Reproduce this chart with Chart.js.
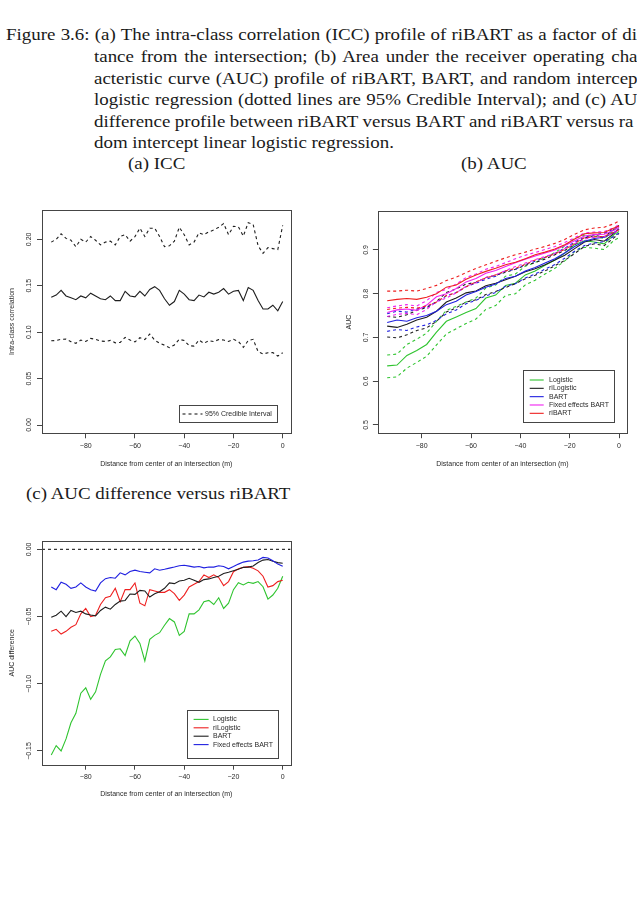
<!DOCTYPE html>
<html><head><meta charset="utf-8">
<script src="https://cdn.jsdelivr.net/npm/chart.js@4/dist/chart.umd.min.js"></script>
<style>
html,body{margin:0;padding:0;background:#fff;}
#page{position:relative;width:637px;height:924px;overflow:hidden;background:#fff;}
.cap{position:absolute;white-space:nowrap;font-family:"Liberation Serif",serif;font-size:17px;line-height:17px;color:#1a1a1a;transform-origin:0 50%;}
canvas{position:absolute;}
</style></head><body>
<div id="page">
<div class="cap" id="l1" style="left:6px;top:26.4px">Figure 3.6: (a) The intra-class correlation (ICC) profile of riBART as a factor of di</div>
<div class="cap" id="l2" style="left:93.5px;top:48.4px">tance from the intersection; (b) Area under the receiver operating cha</div>
<div class="cap" id="l3" style="left:93.5px;top:70.4px">acteristic curve (AUC) profile of riBART, BART, and random intercep</div>
<div class="cap" id="l4" style="left:93.5px;top:91.4px">logistic regression (dotted lines are 95% Credible Interval); and (c) AU</div>
<div class="cap" id="l5" style="left:93.5px;top:113.4px">difference profile between riBART versus BART and riBART versus ra</div>
<div class="cap" id="l6" style="left:93.5px;top:134.4px">dom intercept linear logistic regression.</div>
<div class="cap" id="sa" style="left:128px;top:154.7px">(a) ICC</div>
<div class="cap" id="sb" style="left:460.6px;top:154.7px">(b) AUC</div>
<div class="cap" id="sc" style="left:25.6px;top:484.7px">(c) AUC difference versus riBART</div>
<canvas id="ca" width="318" height="290" style="left:0;top:195px"></canvas>
<canvas id="cb" width="319" height="290" style="left:318px;top:195px"></canvas>
<canvas id="cc" width="318" height="295" style="left:0;top:525px"></canvas>
</div>
<script>
// ---------- data ----------
const xTicks = [-80, -60, -40, -20, 0];
const yTicksA = [0, 0.05, 0.10, 0.15, 0.20];
const yTicksB = [0.5, 0.6, 0.7, 0.8, 0.9];
const yTicksC = [-0.15, -0.10, -0.05, 0];

// (a) ICC profile, distance grid (m)
const xA = [-94,-92,-90,-88,-86,-84,-82,-80,-78,-76,-74,-72,-70,-68,-66,-64,-62,-60,-58,-56,
  -54,-52,-50,-48,-46,-44,-42,-40,-38,-36,-34,-32,-30,-28,-26,-24,-22,-20,-18,-16,-14,-12,-10,-8,-6,-4,-2,0];
const iccMean = [.1375,.140,.145,.139,.137,.135,.139,.137,.142,.139,
  .136,.135,.139,.134,.134,.144,.139,.138,.144,.139,
  .146,.149,.145,.136,.129,.133,.145,.141,.135,.134,
  .140,.138,.143,.141,.143,.147,.141,.144,.145,.134,
  .148,.145,.134,.125,.125,.129,.123,.133];
const iccUpper = [.197,.200,.206,.201,.199,.192,.200,.197,.203,.199,
  .194,.197,.198,.194,.203,.205,.198,.203,.212,.203,
  .212,.212,.203,.192,.193,.198,.213,.205,.194,.197,
  .207,.205,.208,.210,.213,.217,.205,.214,.2135,.2035,
  .218,.216,.193,.185,.191,.190,.189,.215];
const iccLower = [.0908,.0910,.0923,.0925,.0898,.0880,.0915,.0900,.0933,.0923,
  .0905,.0900,.0912,.0885,.0890,.0944,.0915,.0895,.0940,.0920,
  .0980,.0915,.0880,.0860,.0833,.0862,.0923,.0910,.0855,.0850,
  .0915,.0880,.0910,.0898,.0920,.0915,.0900,.0923,.0900,.0836,
  .0910,.0923,.0790,.0765,.0779,.0780,.0743,.0779];

// (b) AUC profiles
const xB = [-94,-90,-86,-82,-78,-74,-70,-66,-62,-58,-54,-50,-46,-42,-38,-34,-30,-26,-22,-18,-14,-10,-6,-2,0];
const aucLogistic   = [0.635,0.637,0.659,0.670,0.684,0.712,0.737,0.747,0.757,0.766,0.790,0.797,0.819,0.824,0.843,0.852,0.865,0.877,0.893,0.912,0.921,0.918,0.914,0.935,0.942];
const aucLogisticLo = [0.608,0.610,0.630,0.643,0.657,0.683,0.708,0.720,0.732,0.742,0.764,0.773,0.796,0.800,0.820,0.831,0.845,0.858,0.875,0.896,0.906,0.904,0.901,0.922,0.928];
const aucLogisticHi = [0.660,0.662,0.684,0.696,0.710,0.737,0.762,0.771,0.781,0.790,0.813,0.820,0.840,0.845,0.863,0.871,0.883,0.894,0.909,0.926,0.934,0.932,0.926,0.946,0.952];
const aucRiLogistic   = [0.726,0.723,0.730,0.740,0.746,0.760,0.781,0.790,0.802,0.806,0.818,0.824,0.832,0.840,0.850,0.857,0.866,0.877,0.888,0.903,0.918,0.924,0.920,0.938,0.948];
const aucRiLogisticLo = [0.701,0.699,0.706,0.716,0.722,0.737,0.758,0.768,0.781,0.786,0.798,0.805,0.814,0.823,0.834,0.842,0.852,0.864,0.876,0.892,0.908,0.914,0.910,0.928,0.938];
const aucRiLogisticHi = [0.748,0.746,0.752,0.762,0.768,0.782,0.803,0.811,0.822,0.826,0.837,0.842,0.849,0.856,0.865,0.871,0.879,0.889,0.899,0.913,0.927,0.933,0.930,0.947,0.956];
const aucBART   = [0.734,0.740,0.737,0.745,0.750,0.760,0.775,0.783,0.797,0.805,0.815,0.822,0.835,0.840,0.852,0.860,0.870,0.880,0.893,0.908,0.920,0.926,0.929,0.940,0.948];
const aucBARTLo = [0.714,0.718,0.716,0.724,0.729,0.739,0.754,0.763,0.777,0.785,0.795,0.803,0.817,0.823,0.836,0.845,0.856,0.867,0.881,0.897,0.910,0.916,0.919,0.931,0.939];
const aucBARTHi = [0.754,0.760,0.758,0.765,0.770,0.780,0.795,0.803,0.816,0.824,0.833,0.840,0.852,0.856,0.867,0.874,0.883,0.892,0.904,0.918,0.929,0.935,0.938,0.948,0.956];
const aucFixedBART   = [0.757,0.763,0.765,0.762,0.774,0.793,0.800,0.812,0.827,0.835,0.847,0.853,0.862,0.871,0.879,0.886,0.893,0.900,0.910,0.921,0.932,0.935,0.936,0.945,0.952];
const aucFixedBARTLo = [0.748,0.753,0.755,0.752,0.764,0.782,0.790,0.802,0.817,0.825,0.837,0.843,0.853,0.862,0.870,0.878,0.885,0.892,0.903,0.914,0.925,0.929,0.930,0.939,0.946];
const aucFixedBARTHi = [0.768,0.772,0.775,0.772,0.784,0.803,0.810,0.822,0.837,0.845,0.856,0.862,0.871,0.880,0.888,0.894,0.901,0.908,0.917,0.928,0.939,0.941,0.942,0.951,0.958];
const aucRiBART   = [0.784,0.787,0.789,0.787,0.792,0.800,0.815,0.820,0.833,0.843,0.851,0.858,0.866,0.872,0.880,0.889,0.895,0.902,0.912,0.925,0.937,0.939,0.940,0.950,0.955];
const aucRiBARTLo = [0.764,0.767,0.769,0.767,0.772,0.781,0.796,0.802,0.816,0.827,0.836,0.843,0.852,0.858,0.867,0.877,0.883,0.891,0.901,0.915,0.928,0.930,0.931,0.941,0.946];
const aucRiBARTHi = [0.806,0.806,0.808,0.806,0.812,0.819,0.830,0.838,0.848,0.858,0.866,0.874,0.882,0.889,0.895,0.902,0.908,0.915,0.924,0.936,0.946,0.950,0.952,0.960,0.966];

// (c) AUC difference versus riBART
const xC = xA.slice();
const diffLogistic = [-.153,-.146,-.150,-.141,-.129,-.122,-.107,-.103,-.1115,-.106,
  -.093,-.083,-.080,-.0745,-.074,-.079,-.068,-.0645,-.070,-.083,
  -.067,-.064,-.062,-.0565,-.0515,-.054,-.064,-.061,-.048,-.048,
  -.045,-.039,-.038,-.041,-.036,-.044,-.040,-.030,-.0248,-.0265,
  -.0245,-.0253,-.024,-.0278,-.037,-.034,-.029,-.020];
const diffRiLogistic = [-.061,-.0595,-.063,-.061,-.058,-.056,-.048,-.044,-.050,-.049,
  -.041,-.036,-.035,-.029,-.039,-.030,-.030,-.025,-.040,-.042,
  -.030,-.031,-.032,-.032,-.030,-.033,-.038,-.034,-.028,-.026,
  -.024,-.019,-.021,-.019,-.021,-.027,-.024,-.0166,-.0145,-.0134,
  -.0129,-.0141,-.016,-.020,-.028,-.027,-.024,-.023];
const diffBART = [-.0506,-.049,-.046,-.050,-.0455,-.047,-.046,-.048,-.0488,-.0495,
  -.0455,-.043,-.0445,-.041,-.0385,-.038,-.0332,-.0335,-.0305,-.031,
  -.0355,-.033,-.0315,-.029,-.025,-.0255,-.0235,-.023,-.0215,-.023,
  -.0245,-.0225,-.022,-.021,-.020,-.018,-.017,-.0159,-.0148,-.0134,
  -.0132,-.0124,-.0098,-.008,-.0076,-.0088,-.0099,-.0104];
const diffFixedBART = [-.028,-.030,-.0245,-.026,-.029,-.028,-.025,-.028,-.030,-.031,
  -.025,-.0218,-.021,-.0215,-.0175,-.019,-.0165,-.0155,-.0165,-.017,
  -.0175,-.0145,-.0155,-.0148,-.014,-.0132,-.0122,-.0118,-.0125,-.0132,
  -.0128,-.0138,-.0132,-.0132,-.0122,-.0128,-.0145,-.0128,-.011,-.0095,
  -.0088,-.0085,-.008,-.006,-.0065,-.0085,-.011,-.0125];

// ---------- styles ----------
const GREEN = '#2fc42f', RED = '#ee2020', BLUE = '#2020e0', MAGENTA = '#f020f0', BLACK = '#1e1e1e';
const AXIS = '#454545', TEXT = '#2a2a2a';
const FONT = {family: '"Liberation Sans", Arial, sans-serif', size: 7};
const DASH = [3, 3];
const X_RANGE = [-97.76, 3.2];

// caption: common horizontal scale from the last (unjustified) line, justified lines stretched by word spacing
(function(){
  const k = 300 / document.getElementById('l6').getBoundingClientRect().width;
  document.querySelectorAll('.cap').forEach(c => { c.style.transform = 'scaleX(' + k + ')'; });
  const ends = {l1: 637, l2: 637, l3: 637, l4: 637, l5: 633};
  Object.keys(ends).forEach(id => {
    const el = document.getElementById(id);
    const r = el.getBoundingClientRect();
    const n = (el.textContent.match(/ /g) || []).length;
    const extra = ends[id] - r.right;
    el.style.wordSpacing = (extra / (n * k)) + 'px';
  });
})();

const pts = (xs, ys) => xs.map((x, i) => ({x: x, y: ys[i]}));
const line = (label, xs, ys, color, dashed, legendOrder) => ({
  label: label, data: pts(xs, ys), borderColor: color, backgroundColor: color,
  borderWidth: 1.1, borderDash: dashed ? DASH : [], pointRadius: 0, fill: false, tension: 0,
  inLegend: legendOrder !== undefined, legendOrder: legendOrder
});

const rFrame = {
  id: 'rFrame',
  afterDraw(chart, args, o) {
    const ctx = chart.ctx, a = chart.chartArea;
    ctx.save();
    ctx.strokeStyle = AXIS; ctx.lineWidth = 1; ctx.setLineDash([]);
    ctx.strokeRect(Math.round(a.left) + 0.5, Math.round(a.top) + 0.5,
      Math.round(a.right) - Math.round(a.left), Math.round(a.bottom) - Math.round(a.top));
    const lg = o.legend;
    if (lg) {
      const items = chart.data.datasets.filter(d => d.inLegend).sort((p, q) => p.legendOrder - q.legendOrder);
      const x0 = Math.round(a.right - lg.right - lg.width), y0 = Math.round(a.bottom - lg.bottom - lg.height);
      ctx.fillStyle = '#fff'; ctx.fillRect(x0, y0, lg.width, lg.height);
      ctx.strokeStyle = AXIS;
      ctx.strokeRect(x0 + 0.5, y0 + 0.5, Math.round(lg.width), Math.round(lg.height));
      ctx.font = FONT.size + 'px ' + FONT.family;
      ctx.textBaseline = 'middle'; ctx.textAlign = 'left';
      items.forEach((d, i) => {
        const y = y0 + lg.first + i * lg.step;
        ctx.strokeStyle = d.borderColor; ctx.lineWidth = d.borderWidth;
        ctx.setLineDash(d.borderDash || []);
        ctx.beginPath(); ctx.moveTo(x0 + lg.lineStart, y); ctx.lineTo(x0 + lg.lineStart + lg.lineLen, y); ctx.stroke();
        ctx.setLineDash([]);
        ctx.fillStyle = TEXT; ctx.fillText(d.label, x0 + lg.textStart, y);
      });
    }
    ctx.restore();
  }
};

const fmtX = v => v === 0 ? '0' : (v < 0 ? '\u2212' : '') + Math.abs(v);
const fmtY = dec => v => (v < 0 ? '\u2212' : '') + Math.abs(v).toFixed(dec);

function makeChart(id, cfg) {
  return new Chart(document.getElementById(id), {
    type: 'line',
    data: {datasets: cfg.datasets},
    plugins: [rFrame],
    options: {
      responsive: false, animation: false, events: [],
      layout: {padding: {left: 0, right: cfg.padRight, top: cfg.padTop, bottom: 0}},
      plugins: {legend: {display: false}, tooltip: {enabled: false}, rFrame: {legend: cfg.legend}},
      scales: {
        x: {
          type: 'linear', min: X_RANGE[0], max: X_RANGE[1],
          afterBuildTicks: s => { s.ticks = xTicks.map(v => ({value: v})); },
          afterFit: s => { s.height = cfg.xAxisH; },
          grid: {display: true, drawOnChartArea: false, drawTicks: true, tickLength: 5, tickColor: AXIS, tickWidth: 1},
          border: {display: false},
          ticks: {autoSkip: false, minRotation: 0, maxRotation: 0, padding: cfg.xTickPad, color: TEXT, font: FONT, callback: v => fmtX(v)},
          title: {display: true, text: 'Distance from center of an intersection (m)', color: TEXT, font: FONT, padding: {top: 0, bottom: cfg.xTitlePad}}
        },
        y: {
          type: 'linear', min: cfg.yRange[0], max: cfg.yRange[1],
          afterBuildTicks: s => { s.ticks = cfg.yTicks.map(v => ({value: v})); },
          afterFit: s => { s.width = cfg.yAxisW; },
          grid: {display: true, drawOnChartArea: false, drawTicks: true, tickLength: 5, tickColor: AXIS, tickWidth: 1},
          border: {display: false},
          ticks: {autoSkip: false, minRotation: 90, maxRotation: 90, crossAlign: 'center', padding: cfg.yTickPad, color: TEXT, font: FONT, callback: v => fmtY(cfg.yDec)(v)},
          title: {display: true, text: cfg.yTitle, color: TEXT, font: FONT, padding: {top: cfg.yTitlePad, bottom: 0}}
        }
      }
    }
  });
}

// (a)
makeChart('ca', {
  datasets: [
    line('Intra-class correlation', xA, iccMean, BLACK, false),
    line('95% Credible Interval', xA, iccUpper, BLACK, true, 0),
    line('95% Credible Interval (lower)', xA, iccLower, BLACK, true)
  ],
  padRight: 27.4, padTop: 14.7, xAxisH: 51.7, yAxisW: 42,
  yRange: [-0.0089, 0.2319], yTicks: yTicksA, yDec: 2, yTitle: 'Intra-class correlation',
  xTickPad: 3.6, xTitlePad: 16.8, yTickPad: 0.9, yTitlePad: 7.5,
  legend: {right: 13.3, bottom: 11.3, width: 98, height: 17.4, first: 9, step: 8.4, lineStart: 3.5, lineLen: 20, textStart: 26}
});

// (b)
const bSeries = [
  ['Logistic', aucLogistic, aucLogisticLo, aucLogisticHi, GREEN],
  ['riLogistic', aucRiLogistic, aucRiLogisticLo, aucRiLogisticHi, BLACK],
  ['BART', aucBART, aucBARTLo, aucBARTHi, BLUE],
  ['Fixed effects BART', aucFixedBART, aucFixedBARTLo, aucFixedBARTHi, MAGENTA],
  ['riBART', aucRiBART, aucRiBARTLo, aucRiBARTHi, RED]
];
const bSets = [];
bSeries.forEach((s, i) => {
  bSets.push(line(s[0] + ' lower', xB, s[2], s[4], true));
  bSets.push(line(s[0] + ' upper', xB, s[3], s[4], true));
  bSets.push(line(s[0], xB, s[1], s[4], false, i));
});
makeChart('cb', {
  datasets: bSets.reverse(),
  padRight: 10.1, padTop: 16.1, xAxisH: 51.8, yAxisW: 59.9,
  yRange: [0.4812, 0.9888], yTicks: yTicksB, yDec: 1, yTitle: 'AUC',
  xTickPad: 3.6, xTitlePad: 16.8, yTickPad: 2.4, yTitlePad: 27.1,
  legend: {right: 12.9, bottom: 11.2, width: 90.7, height: 51.7, first: 10, step: 8.33, lineStart: 6.7, lineLen: 14, textStart: 26}
});

// (c)
makeChart('cc', {
  datasets: [
    line('Logistic', xC, diffLogistic, GREEN, false, 0),
    line('riLogistic', xC, diffRiLogistic, RED, false, 1),
    line('BART', xC, diffBART, BLACK, false, 2),
    line('Fixed effects BART', xC, diffFixedBART, BLUE, false, 3),
    line('zero', X_RANGE, [0, 0], BLACK, true)
  ].reverse(),
  padRight: 27.4, padTop: 16, xAxisH: 55.3, yAxisW: 42,
  yRange: [-0.1602, 0.0062], yTicks: yTicksC, yDec: 2, yTitle: 'AUC difference',
  xTickPad: 3.6, xTitlePad: 21.5, yTickPad: -1.1, yTitlePad: 7.5,
  legend: {right: 13.3, bottom: 7.2, width: 90.6, height: 48, first: 9.4, step: 8.4, lineStart: 6.6, lineLen: 15, textStart: 26}
});
</script>
</body></html>
